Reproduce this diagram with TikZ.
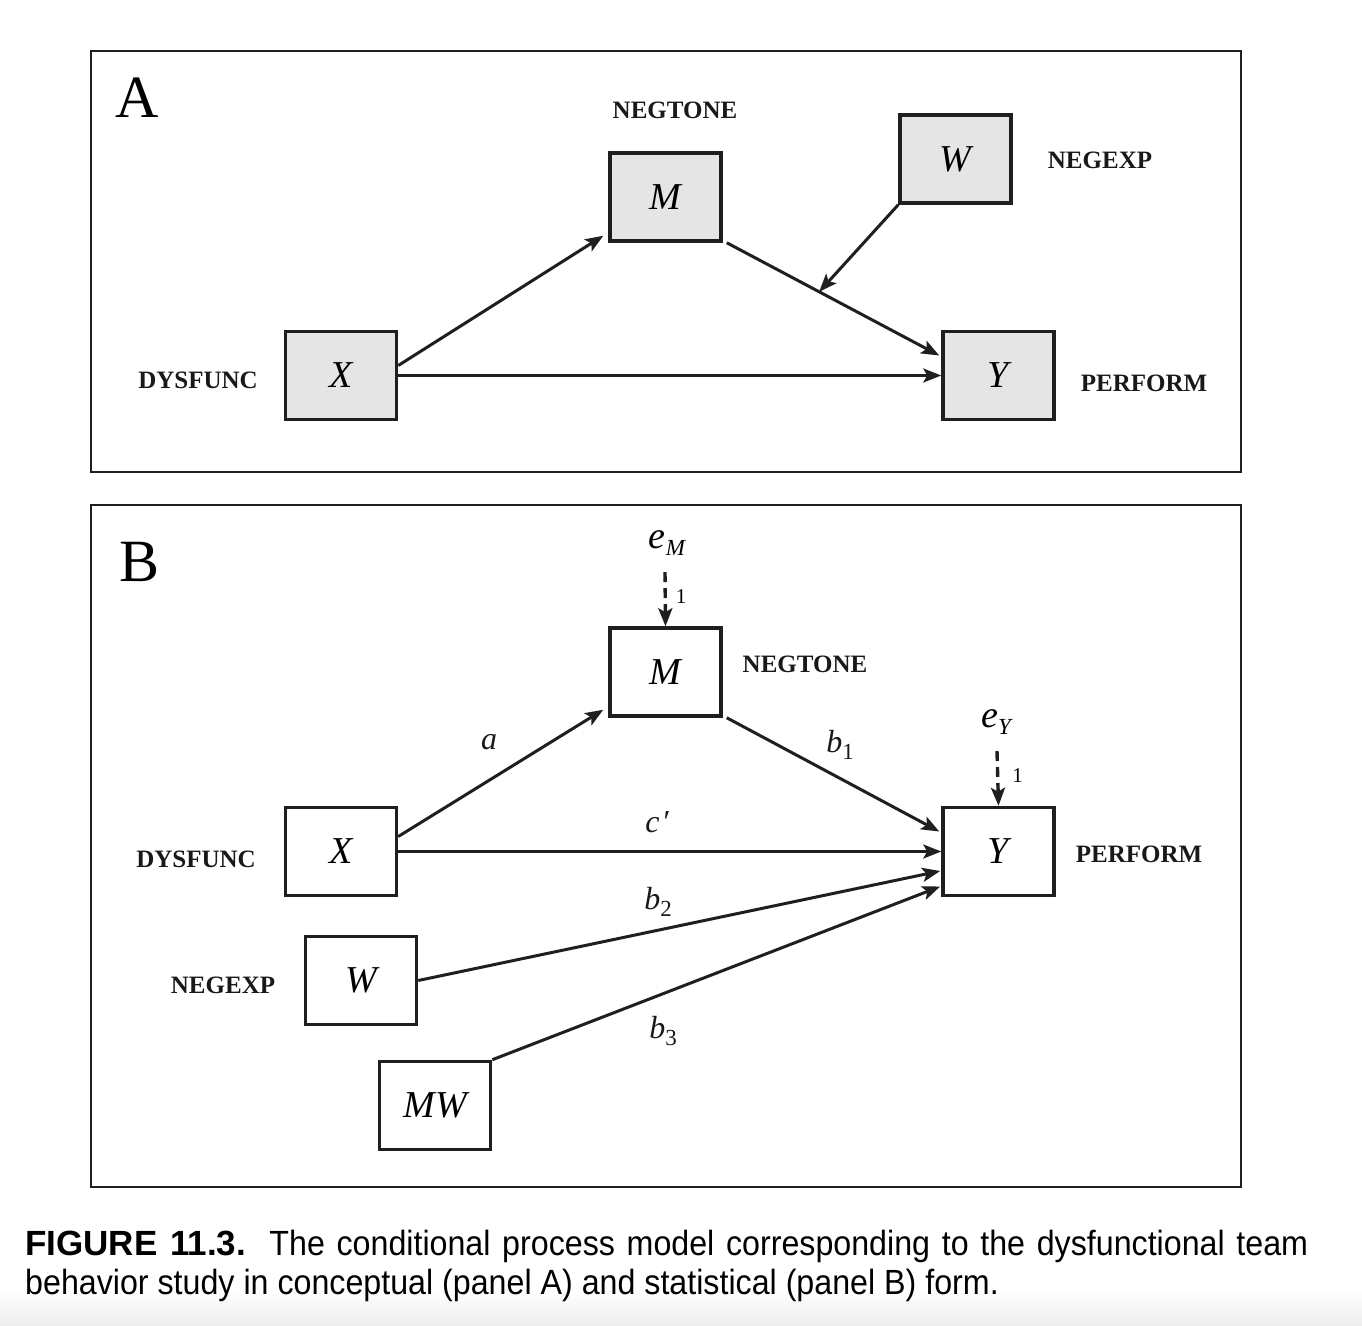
\documentclass[tikz,border=0pt]{standalone}
\usepackage{fontspec}
\setmainfont{Liberation Serif}
\newfontfamily\capfam[FakeStretch=0.92]{Liberation Sans}
\newfontfamily\capbold[FakeStretch=1.0]{Liberation Sans Bold}
\usetikzlibrary{arrows.meta,calc}
\newcommand{\boxf}{\fontsize{38}{44}\selectfont\itshape}
\newcommand{\lblf}{\fontsize{25}{29}\selectfont\bfseries}
\newcommand{\panf}{\fontsize{60}{70}\selectfont}
\newcommand{\coeff}{\fontsize{32}{36}\selectfont}
\newcommand{\onef}{\fontsize{21}{24}\selectfont}
\newcommand{\capf}{\fontsize{35}{40}\selectfont\capfam}
\newcommand{\subsc}[1]{\raisebox{-7pt}{\fontsize{23}{25}\selectfont #1}}
\tikzset{
  box/.style={draw=black!88, line width=3.5pt, minimum width=111pt, minimum height=88pt, inner sep=0pt, font=\boxf},
  boxA/.style={box, fill=black!10},
  boxB/.style={box, fill=white},
  lbl/.style={font=\lblf, inner sep=0pt, text=black!90},
  arr/.style={line width=3pt, draw=black!88, -{Stealth[length=18pt,width=14pt,inset=4pt]}},
  darr/.style={arr, line width=3.4pt, dash pattern=on 10pt off 6pt},
  panelframe/.style={draw=black!88, line width=2pt},
  coef/.style={font=\coeff, inner sep=0pt, text=black!90},
}
\begin{document}
\begin{tikzpicture}[x=1pt,y=-1pt]
\useasboundingbox (0,0) rectangle (1362,1325);
\shade[top color=white, bottom color=black!7] (0,1290) rectangle (1362,1325);
% ---------------- Panel A
\draw[panelframe] (91,51) rectangle (1241,472);
\node[font=\panf, inner sep=0pt] (pA) at (137,98) {A};
\node[boxA] (MA) at (665.5,197) {M};
\node[boxA] (WA) at (955.5,159) {W};
\node[boxA] (XA) at (341,375.5) {X};
\node[boxA] (YA) at (998.5,375.5) {Y};
\node[lbl] (lMA) at (675,110) {NEGTONE};
\node[lbl] (lWA) at (1100,160) {NEGEXP};
\node[lbl] (lXA) at (198,380) {DYSFUNC};
\node[lbl] (lYA) at (1144,383) {PERFORM};
\draw[arr] ([yshift=10pt]XA.east) -- ([shift={(-5,-7)}]MA.south west);
\draw[arr] (XA.east) -- (YA.west);
\draw[arr] ([shift={(4,0)}]MA.south east) -- coordinate[pos=0.435] (WT) ([shift={(-2,-20)}]YA.west);
\draw[arr] (WA.south west) -- (WT);
% ---------------- Panel B
\draw[panelframe] (91,505) rectangle (1241,1187);
\node[font=\panf, inner sep=0pt] (pB) at (140,562) {B};
\node[boxB] (MB) at (665.5,672) {M};
\node[boxB] (XB) at (341,851.5) {X};
\node[boxB] (YB) at (998.5,851.5) {Y};
\node[boxB] (WB) at (361,980.5) {W};
\node[boxB] (MWB) at (435,1105.5) {MW};
\node[lbl] (lMB) at (805,664) {NEGTONE};
\node[lbl] (lYB) at (1139,854) {PERFORM};
\node[lbl] (lXB) at (196,859) {DYSFUNC};
\node[lbl] (lWB) at (223,985) {NEGEXP};
\node[font=\boxf, inner sep=0pt] (eM) at (667,543) {e\subsc{M}};
\node[font=\boxf, inner sep=0pt] (eY) at (996,722) {e\subsc{Y}};
\draw[darr] ($(eM)+(-2,29)$) -- node[pos=0.45, right=9pt, font=\onef, inner sep=0pt] (oneM) {1} (MB.north);
\draw[darr] ($(eY)+(1,29)$) -- node[pos=0.45, right=13pt, font=\onef, inner sep=0pt] (oneY) {1} (YB.north);
\draw[arr] ([yshift=15pt]XB.east) -- ([shift={(-5,-8)}]MB.south west);
\draw[arr] ([shift={(4,0)}]MB.south east) -- ([shift={(-2,-20)}]YB.west);
\draw[arr] (XB.east) -- (YB.west);
\draw[arr] (WB.east) -- ([shift={(-1,19.5)}]YB.west);
\draw[arr] (MWB.north east) -- ([shift={(-1,35)}]YB.west);
\node[coef] (ca) at (489,742) {\itshape a};
\node[coef] (cb1) at (840,745) {\itshape b\subsc{\upshape 1}};
\node[coef] (cc) at (657,822) {\itshape c\kern2pt′};
\node[coef] (cb2) at (658,902) {\itshape b\subsc{\upshape 2}};
\node[coef] (cb3) at (663,1031) {\itshape b\subsc{\upshape 3}};
% ---------------- Caption
\node[anchor=base west, font=\capf, inner sep=0pt] (cap1) at (25,1255) {\makebox[1283pt][s]{{\capbold FIGURE 11.3.}\ \ The conditional process model corresponding to the dysfunctional team}};
\node[anchor=base west, font=\capf, inner sep=0pt] (cap2) at (25,1294) {behavior study in conceptual (panel A) and statistical (panel B) form.};
\end{tikzpicture}
\end{document}
